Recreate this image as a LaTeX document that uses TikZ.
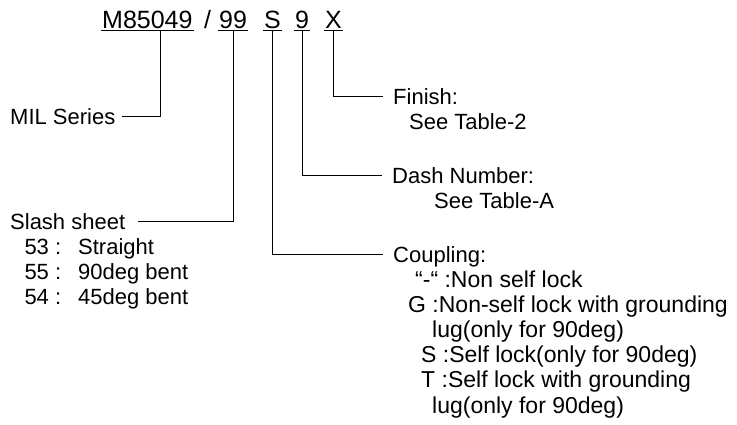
\documentclass[tikz,border=0pt]{standalone}
\usepackage{fontspec}
\setmainfont{Liberation Sans}
\usetikzlibrary{matrix,positioning}

\begin{document}
\begin{tikzpicture}[
     x=1pt, y=-1pt,
     % define styles
     code/.style={
         font=\fontsize{25}{30}\selectfont,
         inner xsep=1pt, inner ysep=2.5pt,
         text height=18pt, text depth=0pt,
         anchor=base west
     },
     lbl/.style={
         font=\fontsize{22}{25}\selectfont,
         inner sep=0pt,
         text height=16pt, text depth=0pt,
         anchor=base west
     },
     list/.style={
         matrix of nodes,
         nodes={ lbl },
         column 1/.style={ nodes={ anchor=base east } },
         column 2/.style={ nodes={ anchor=base west } },
         row sep={25.2pt,between origins}
     },
     conn/.style={
         draw,
         line width=0.9pt
     }
]
\useasboundingbox (0,0) rectangle (737,424);

% part number, each part underlined
\node[code] (ser) at (101,28) {M85049};
\node[code] (sep) at (203,28) {/};
\node[code] (sls) at (218,28) {99};
\node[code] (cpl) at (263,28) {S};
\node[code] (dsh) at (294,28) {9};
\node[code] (fin) at (324,28) {X};
\foreach \p in {ser,sls,cpl,dsh,fin}
    \draw[conn] (\p.south west) -- (\p.south east);

% headings
\node[lbl] (serlab) at (10,124) {MIL Series};
\node[lbl] (slslab) at (10,229) {Slash sheet};
\node[lbl] (finlab) at (393,104) {Finish:};
\node[lbl] (fintab) at (409,129) {See Table-2};
\node[lbl] (dshlab) at (392,183) {Dash Number:};
\node[lbl] (dshtab) at (434,208) {See Table-A};
\node[lbl] (cpllab) at (393,262) {Coupling:};

% option lists
\matrix[list, column sep=17pt, anchor=slsmat-1-2.base west] (slsmat) at (78,254)
{
53 :& Straight \\
55 :& 90deg bent \\
54 :& 45deg bent \\
};
\matrix[list, nodes={ font=\fontsize{23}{25}\selectfont, anchor=base west },
        column 1/.style={}, anchor=cplmat-1-1.base west] (cplmat) at (415,287)
{
“-“ :Non self lock \\
|[xshift=-7pt]| G :Non-self lock with grounding \\
|[xshift=17pt]| lug(only for 90deg) \\
|[xshift=6pt]| S :Self lock(only for 90deg) \\
|[xshift=6pt]| T :Self lock with grounding \\
|[xshift=17pt]| lug(only for 90deg) \\
};

% leaders from the parts to their headings
\draw[conn, shorten >=6pt] ([xshift=13pt]ser.south) |- (serlab.east);
\draw[conn, shorten >=13pt] (sls.south) |- (slslab.east);
\draw[conn, shorten >=10pt] (cpl.south) |- (cpllab.west);
\draw[conn, shorten >=10pt] (dsh.south) |- (dshlab.west);
\draw[conn, shorten >=10pt] (fin.south) |- (finlab.west);
\end{tikzpicture}
\end{document}
